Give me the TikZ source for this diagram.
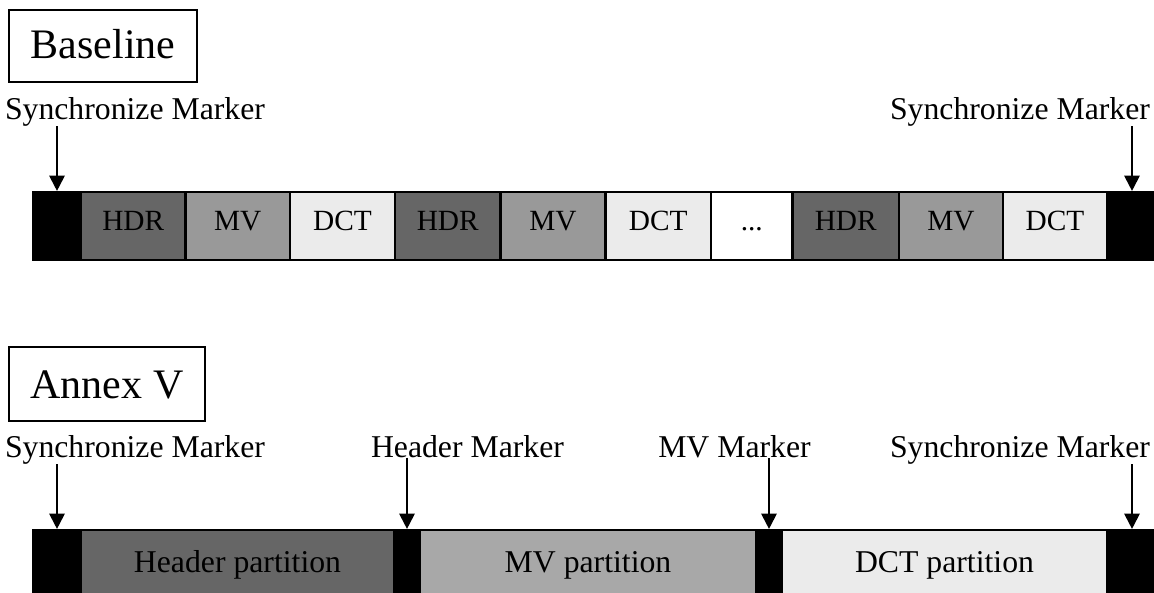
\documentclass[tikz,border=0pt]{standalone}
\usepackage{fontspec}
\setmainfont{Liberation Serif}
\usetikzlibrary{arrows.meta}
\definecolor{hdrgray}{gray}{0.40}
\definecolor{mvgray}{gray}{0.60}
\definecolor{mvgrayb}{gray}{0.66}
\definecolor{dctgray}{gray}{0.92}
\begin{document}
\begin{tikzpicture}[x=0.75pt,y=-0.75pt,
  cell/.style={draw=black, line width=1.6pt, minimum width=#1*0.75pt, minimum height=51pt,
    inner sep=0pt, font=\fontsize{22}{26}\selectfont, text height=15pt, text depth=9pt},
  part/.style={draw=black, line width=1.6pt, minimum width=#1*0.75pt, minimum height=51pt,
    inner sep=0pt, font=\fontsize{23.8}{28}\selectfont, text height=17pt, text depth=5pt},
  blk/.style={draw=black, fill=black, line width=1.6pt, minimum width=#1*0.75pt, minimum height=51pt, inner sep=0pt},
  lbl/.style={anchor=base, inner sep=0pt, font=\fontsize{23.8}{28}\selectfont},
  title/.style={draw=black, line width=0.9pt, inner sep=0pt, font=\fontsize{31.5}{36}\selectfont},
  arr/.style={line width=1.5pt, -{Triangle[width=11.5pt,length=11.5pt]}}]
\useasboundingbox (0,0) rectangle (1154,593);

% ---------- Baseline ----------
\node[title, minimum width=141pt, minimum height=54pt, text height=22pt, text depth=4pt] (tb) at (103,46) {Baseline};

\node[blk=48] (s1) at (57,226) {};
\node[cell=104.5, fill=hdrgray] (h1) at (133.25,226) {HDR};
\node[cell=104.5, fill=mvgray] (m1) at (237.75,226) {MV};
\node[cell=105, fill=dctgray] (d1) at (342.5,226) {DCT};
\node[cell=105.5, fill=hdrgray] (h2) at (447.75,226) {HDR};
\node[cell=105, fill=mvgray] (m2) at (553,226) {MV};
\node[cell=105.5, fill=dctgray] (d2) at (658.25,226) {DCT};
\node[cell=81.5, fill=white] (dots) at (751.75,226) {...};
\node[cell=106.5, fill=hdrgray] (h3) at (845.75,226) {HDR};
\node[cell=104, fill=mvgray] (m3) at (951,226) {MV};
\node[cell=104, fill=dctgray] (d3) at (1055,226) {DCT};
\node[blk=50] (s2) at (1132,226) {};

\node[lbl] (ls1) at (135,119) {Synchronize Marker};
\node[lbl] (ls2) at (1020,119) {Synchronize Marker};
\draw[arr] (ls1.south -| s1.north) -- (s1.north);
\draw[arr] (ls2.south -| s2.north) -- (s2.north);

% ---------- Annex V ----------
\node[title, minimum width=147pt, minimum height=55.5pt, text height=23pt, text depth=2pt] (ta) at (107,384) {Annex V};

\node[blk=48] (b1) at (57,564) {};
\node[part=313, fill=hdrgray] (hp) at (237.5,564) {Header partition};
\node[blk=26] (b2) at (407,564) {};
\node[part=336, fill=mvgrayb] (mp) at (588,564) {MV partition};
\node[blk=26] (b3) at (769,564) {};
\node[part=325, fill=dctgray] (dp) at (944.5,564) {DCT partition};
\node[blk=50] (b4) at (1132,564) {};

\node[lbl] (lb1) at (135,457) {Synchronize Marker};
\node[lbl] (lb2) at (467.5,457) {Header Marker};
\node[lbl] (lb3) at (734.5,457) {MV Marker};
\node[lbl] (lb4) at (1020,457) {Synchronize Marker};
\draw[arr] (lb1.south -| b1.north) -- (b1.north);
\draw[arr] (lb2.south -| b2.north) -- (b2.north);
\draw[arr] (lb3.south -| b3.north) -- (b3.north);
\draw[arr] (lb4.south -| b4.north) -- (b4.north);
\end{tikzpicture}
\end{document}
